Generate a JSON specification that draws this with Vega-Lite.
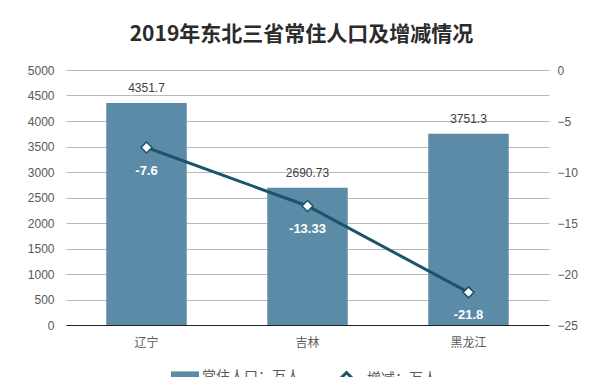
{
  "$schema": "https://vega.github.io/schema/vega-lite/v6.json",
  "width": 483,
  "height": 255,
  "autosize": {"type": "none"},
  "padding": {"left": 66, "top": 70, "right": 51, "bottom": 52},
  "background": "white",
  "title": {
    "text": "2019年东北三省常住人口及增减情况",
    "font": "Noto Sans CJK SC",
    "fontSize": 21,
    "fontWeight": "bold",
    "color": "#2b2b2b",
    "anchor": "middle",
    "offset": 19,
    "dx": -6
  },
  "data": {
    "values": [
      {"省份": "辽宁", "常住人口": 4351.7, "增减": -7.6},
      {"省份": "吉林", "常住人口": 2690.73, "增减": -13.33},
      {"省份": "黑龙江", "常住人口": 3751.3, "增减": -21.8}
    ]
  },
  "encoding": {
    "x": {
      "field": "省份",
      "type": "nominal",
      "sort": null,
      "scale": {"paddingInner": 0.5, "paddingOuter": 0.25},
      "axis": {
        "title": null,
        "labelAngle": 0,
        "ticks": false,
        "domain": true,
        "domainColor": "#222222",
        "labelPadding": 12,
        "labelFont": "Noto Sans CJK SC",
        "labelFontSize": 12,
        "labelColor": "#595959"
      }
    }
  },
  "layer": [
    {
      "encoding": {
        "y": {
          "field": "常住人口",
          "type": "quantitative",
          "scale": {"domain": [0, 5000], "nice": false},
          "axis": {
            "title": null,
            "format": "d",
            "values": [0, 500, 1000, 1500, 2000, 2500, 3000, 3500, 4000, 4500, 5000],
            "ticks": false,
            "domain": false,
            "grid": true,
            "gridColor": "#b8b8b8",
            "gridWidth": 1,
            "labelPadding": 12,
            "labelFont": "Liberation Sans",
            "labelFontSize": 12,
            "labelColor": "#595959"
          }
        }
      },
      "layer": [
        {
          "mark": {"type": "bar"},
          "encoding": {
            "color": {
              "datum": "常住人口：万人",
              "scale": {"range": ["#5b8ba7"]},
              "legend": {
                "title": null,
                "orient": "none",
                "legendX": 105,
                "legendY": 293,
                "symbolType": "M-1,-0.4H1V0.4H-1Z",
                "symbolSize": 784,
                "symbolStrokeWidth": 0,
                "labelFont": "Noto Sans CJK SC",
                "labelFontSize": 14,
                "labelColor": "#595959",
                "labelOffset": 3
              }
            }
          }
        },
        {
          "mark": {"type": "text", "dy": -15, "font": "Liberation Sans", "fontSize": 12, "color": "#404040"},
          "encoding": {
            "text": {"field": "常住人口", "type": "nominal"}
          }
        }
      ]
    },
    {
      "encoding": {
        "y": {
          "field": "增减",
          "type": "quantitative",
          "scale": {"domain": [-25, 0], "nice": false},
          "axis": {
            "title": null,
            "orient": "right",
            "values": [-25, -20, -15, -10, -5, 0],
            "ticks": false,
            "domain": false,
            "grid": false,
            "labelPadding": 8,
            "labelFont": "Liberation Sans",
            "labelFontSize": 12,
            "labelColor": "#595959"
          }
        }
      },
      "layer": [
        {
          "mark": {"type": "line", "strokeWidth": 3},
          "encoding": {
            "stroke": {
              "datum": "增减：万人",
              "scale": {"range": ["#1a5569"]},
              "legend": {
                "title": null,
                "orient": "none",
                "legendX": 262,
                "legendY": 290,
                "symbolType": "M-1,0H-0.35M0.35,0H1M0,-0.35L0.35,0L0,0.35L-0.35,0Z",
                "symbolSize": 1156,
                "symbolStrokeWidth": 3,
                "symbolFillColor": "white",
                "labelFont": "Noto Sans CJK SC",
                "labelFontSize": 14,
                "labelColor": "#595959",
                "labelOffset": 2
              }
            }
          }
        },
        {
          "mark": {"type": "point", "shape": "diamond", "size": 120, "filled": true, "fill": "white", "stroke": "#1a5569", "strokeWidth": 1.5, "opacity": 1}
        },
        {
          "mark": {"type": "text", "dy": 23, "font": "Liberation Sans", "fontSize": 13, "fontWeight": "bold", "color": "white"},
          "encoding": {
            "text": {"field": "增减", "type": "nominal"}
          }
        }
      ]
    }
  ],
  "resolve": {"scale": {"y": "independent"}},
  "config": {
    "view": {"stroke": null}
  }
}
